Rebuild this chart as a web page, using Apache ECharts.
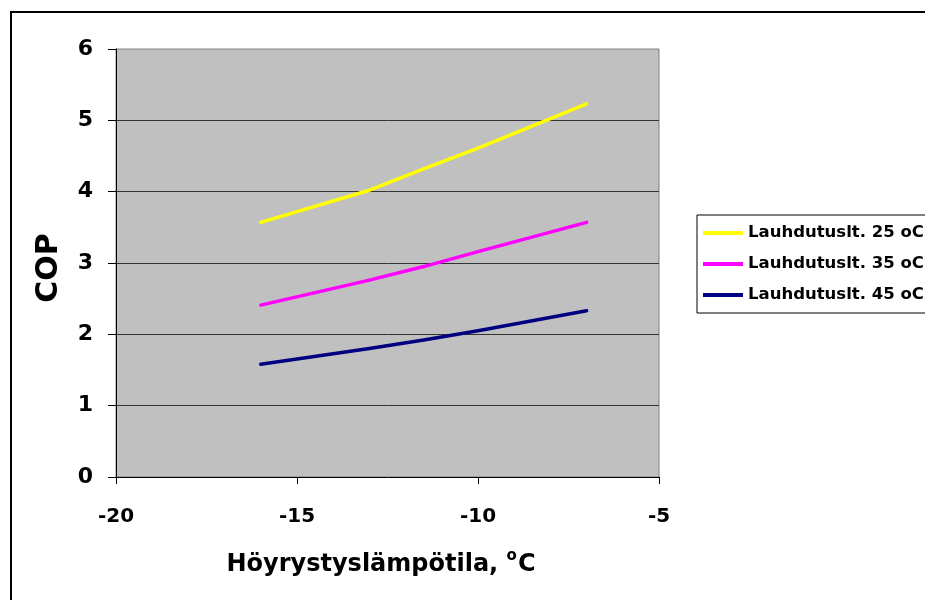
<!DOCTYPE html>
<html>
<head>
<meta charset="utf-8">
<script src="https://cdn.jsdelivr.net/npm/echarts@6/dist/echarts.min.js"></script>
<style>html,body{margin:0;padding:0;background:#fff;}#c{width:925px;height:600px;}</style>
</head>
<body>
<div id="c"></div>
<script>
// Data
var xTemps = [-16, -13, -11.5, -10, -7];
var cop25 = [3.57, 4.02, 4.32, 4.61, 5.23];
var cop35 = [2.41, 2.76, 2.95, 3.16, 3.57];
var cop45 = [1.58, 1.80, 1.92, 2.05, 2.33];
var seriesNames = ['Lauhdutuslt. 25 oC', 'Lauhdutuslt. 35 oC', 'Lauhdutuslt. 45 oC'];
var seriesColors = ['#FFFF00', '#FF00FF', '#000080'];
var xTitle = 'Höyrystyslämpötila, ';
var yTitle = 'COP';

function pairs(ys) { return xTemps.map(function (x, i) { return [x, ys[i]]; }); }
var allValues = [cop25, cop35, cop45];

var FONT = '"DejaVu Sans", "Liberation Sans", Arial, sans-serif';
var chart = echarts.init(document.getElementById('c'), null, { renderer: 'canvas' });
chart.setOption({
  animation: false,
  backgroundColor: '#ffffff',
  graphic: [{
    type: 'rect', z: -10, silent: true,
    shape: { x: 11, y: 12, width: 1000, height: 700 },
    style: { fill: 'none', stroke: '#000', lineWidth: 2 }
  }],
  grid: {
    left: 116, right: 266, top: 49, bottom: 123,
    show: true, backgroundColor: '#C0C0C0', borderColor: '#808080', borderWidth: 1
  },
  legend: {
    orient: 'vertical', left: 697, top: 215,
    padding: [9, 60, 9, 6],
    itemWidth: 40, itemHeight: 4, itemGap: 13, icon: 'rect',
    backgroundColor: '#fff', borderColor: '#000', borderWidth: 1,
    textStyle: { fontFamily: FONT, fontWeight: 'bold', fontSize: 16.5, lineHeight: 18, color: '#000' },
    data: seriesNames
  },
  xAxis: {
    type: 'value', min: -20, max: -5, interval: 5,
    name: '{m|' + xTitle + '}{s|o}{m|C}',
    nameLocation: 'middle', nameGap: 72,
    nameTextStyle: {
      padding: [0, 13, 0, 0],
      rich: {
        m: { fontFamily: FONT, fontWeight: 'bold', fontSize: 24, color: '#000', lineHeight: 28, verticalAlign: 'bottom' },
        s: { fontFamily: FONT, fontWeight: 'bold', fontSize: 15, color: '#000', lineHeight: 28, verticalAlign: 'top', padding: [0, 1, 0, 0] }
      }
    },
    axisLine: { onZero: false, lineStyle: { color: '#000', width: 1 } },
    axisTick: { inside: false, length: 7, lineStyle: { color: '#000' } },
    axisLabel: { margin: 30, fontFamily: FONT, fontWeight: 'bold', fontSize: 20, color: '#000' },
    splitLine: { show: false }
  },
  yAxis: {
    type: 'value', min: 0, max: 6, interval: 1,
    name: yTitle, nameLocation: 'middle', nameGap: 52,
    nameTextStyle: { fontFamily: FONT, fontWeight: 'bold', fontSize: 30, color: '#000', padding: [0, 10, 0, 0] },
    axisLine: { show: true, lineStyle: { color: '#000', width: 1 } },
    axisTick: { show: true, inside: false, length: 8, lineStyle: { color: '#000' } },
    axisLabel: { margin: 23, fontFamily: FONT, fontWeight: 'bold', fontSize: 22, color: '#000', padding: [6, 0, 0, 0] },
    splitLine: { show: true, showMaxLine: false, showMinLine: false, lineStyle: { color: '#333', width: 1 } }
  },
  series: seriesNames.map(function (n, i) {
    return {
      name: n, type: 'line', data: pairs(allValues[i]),
      symbol: 'none', smooth: false, color: seriesColors[i],
      lineStyle: { color: seriesColors[i], width: 3.5, cap: 'round', join: 'round' }
    };
  })
});
</script>
</body>
</html>
